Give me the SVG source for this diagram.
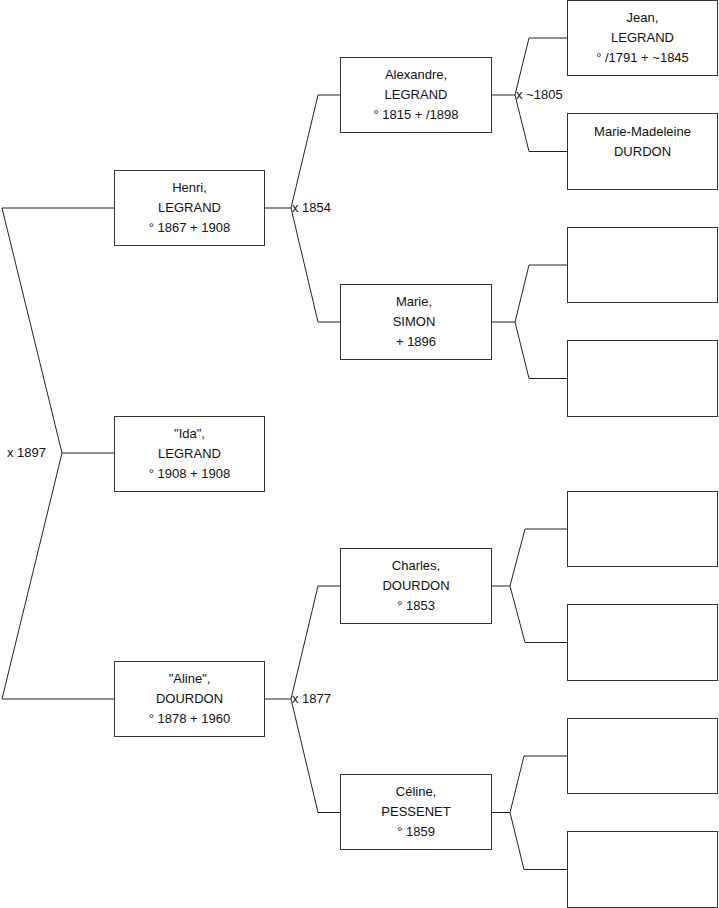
<svg xmlns="http://www.w3.org/2000/svg" width="719" height="908" viewBox="0 0 719 908">
<style>
.box{fill:#fff;stroke:#333;stroke-width:1}
.t{font-family:"Liberation Sans",Arial,sans-serif;font-size:13px;fill:#111;text-anchor:middle}
.u{font-family:"Liberation Sans",Arial,sans-serif;font-size:13px;fill:#111}
.c{fill:none;stroke:#222;stroke-width:1}
</style>
<rect width="719" height="908" fill="#fff"/>
<g id="connectors">
<polyline class="c" points="114,208 2,208 62,453 2,699 114,699"/>
<polyline class="c" points="62,453 114,453"/>
<polyline class="c" points="265,208 291,208"/>
<polyline class="c" points="340,95 318,95 291,208 318,322 340,322"/>
<polyline class="c" points="265,699 291,699"/>
<polyline class="c" points="340,586 318,586 291,699 318,812.5 340,812.5"/>
<polyline class="c" points="492,95 515,95"/>
<polyline class="c" points="567,38 529,38 515,95 529,151.5 567,151.5"/>
<polyline class="c" points="492,322 515,322"/>
<polyline class="c" points="567,265 529,265 515,322 529,378.5 567,378.5"/>
<polyline class="c" points="492,586 510,586"/>
<polyline class="c" points="567,529 525,529 510,586 525,642.5 567,642.5"/>
<polyline class="c" points="492,812.5 510,812.5"/>
<polyline class="c" points="567,756 524,756 510,812.5 524,869.5 567,869.5"/>
<text class="u" x="7" y="457">x 1897</text>
<text class="u" x="292" y="212">x 1854</text>
<text class="u" x="292" y="703">x 1877</text>
<text class="u" x="516" y="99">x ~1805</text>
</g>
<g id="henri">
<rect class="box" x="114.5" y="170.5" width="150" height="75"/>
<text class="t" x="189.5" y="192">Henri,</text>
<text class="t" x="189.5" y="212">LEGRAND</text>
<text class="t" x="189.5" y="232">° 1867 + 1908</text>
</g>
<g id="ida">
<rect class="box" x="114.5" y="416.5" width="150" height="75"/>
<text class="t" x="189.5" y="438">"Ida",</text>
<text class="t" x="189.5" y="458">LEGRAND</text>
<text class="t" x="189.5" y="478">° 1908 + 1908</text>
</g>
<g id="aline">
<rect class="box" x="114.5" y="661.5" width="150" height="75"/>
<text class="t" x="189.5" y="683">"Aline",</text>
<text class="t" x="189.5" y="703">DOURDON</text>
<text class="t" x="189.5" y="723">° 1878 + 1960</text>
</g>
<g id="alexandre">
<rect class="box" x="340.5" y="57.5" width="151" height="75"/>
<text class="t" x="416" y="79">Alexandre,</text>
<text class="t" x="416" y="99">LEGRAND</text>
<text class="t" x="416" y="119">° 1815 + /1898</text>
</g>
<g id="marie">
<rect class="box" x="340.5" y="284.5" width="151" height="75"/>
<text class="t" x="414" y="306">Marie,</text>
<text class="t" x="414" y="326">SIMON</text>
<text class="t" x="416" y="346">+ 1896</text>
</g>
<g id="charles">
<rect class="box" x="340.5" y="548.5" width="151" height="75"/>
<text class="t" x="416" y="570">Charles,</text>
<text class="t" x="416" y="590">DOURDON</text>
<text class="t" x="416" y="610">° 1853</text>
</g>
<g id="celine">
<rect class="box" x="340.5" y="774.5" width="151" height="75"/>
<text class="t" x="416" y="796">Céline,</text>
<text class="t" x="416" y="816">PESSENET</text>
<text class="t" x="416" y="836">° 1859</text>
</g>
<g id="jean">
<rect class="box" x="567.5" y="0.5" width="150" height="75"/>
<text class="t" x="642.5" y="22">Jean,</text>
<text class="t" x="642.5" y="42">LEGRAND</text>
<text class="t" x="642.5" y="62">° /1791 + ~1845</text>
</g>
<g id="marie-madeleine">
<rect class="box" x="567.5" y="113.5" width="150" height="76"/>
<text class="t" x="642.5" y="135.5">Marie-Madeleine</text>
<text class="t" x="642.5" y="155.5">DURDON</text>
</g>
<g id="empty1"><rect class="box" x="567.5" y="227.5" width="150" height="75"/></g>
<g id="empty2"><rect class="box" x="567.5" y="340.5" width="150" height="76"/></g>
<g id="empty3"><rect class="box" x="567.5" y="491.5" width="150" height="75"/></g>
<g id="empty4"><rect class="box" x="567.5" y="604.5" width="150" height="76"/></g>
<g id="empty5"><rect class="box" x="567.5" y="718.5" width="150" height="75"/></g>
<g id="empty6"><rect class="box" x="567.5" y="831.5" width="150" height="76"/></g>
</svg>
